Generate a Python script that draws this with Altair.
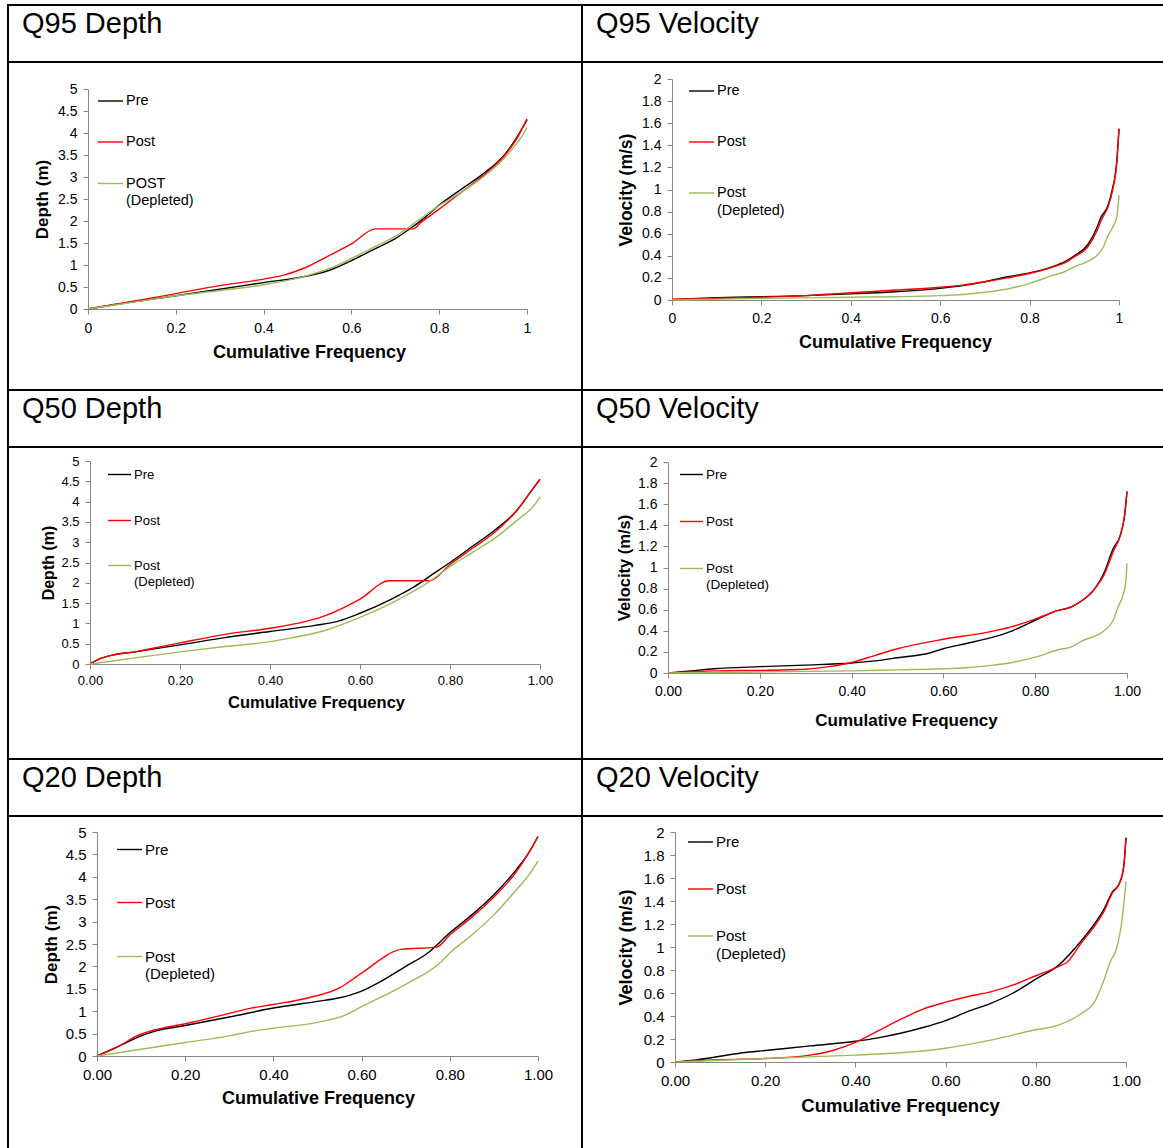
import altair as alt
import pandas as pd

# ------------------------------------------------------------------ data
SERIES = ["Pre", "Post", "Post (Depleted)"]
COLORS = ["#000000", "#FF0000", "#9BBB59"]

# Q95 Depth
q95d_pre_x = [0, 0.1, 0.2, 0.3, 0.4, 0.5, 0.55, 0.6, 0.65, 0.7, 0.73, 0.76, 0.8, 0.85, 0.9, 0.95, 0.98, 0.99, 1.0]
q95d_pre_y = [0, 0.16, 0.3, 0.45, 0.6, 0.75, 0.88, 1.1, 1.35, 1.6, 1.8, 2.02, 2.36, 2.72, 3.07, 3.52, 3.95, 4.12, 4.3]
q95d_post_x = [0, 0.1, 0.2, 0.3, 0.4, 0.45, 0.49, 0.55, 0.6, 0.655, 0.74, 0.76, 0.8, 0.85, 0.9, 0.95, 0.98, 0.99, 1.0]
q95d_post_y = [0, 0.17, 0.35, 0.53, 0.68, 0.78, 0.92, 1.22, 1.48, 1.82, 1.82, 1.98, 2.27, 2.65, 3.03, 3.5, 3.93, 4.12, 4.32]
q95d_dep_x = [0, 0.1, 0.2, 0.3, 0.4, 0.5, 0.55, 0.6, 0.65, 0.7, 0.75, 0.8, 0.85, 0.9, 0.95, 0.99, 1.0]
q95d_dep_y = [0, 0.15, 0.3, 0.42, 0.55, 0.76, 0.92, 1.15, 1.4, 1.65, 2.0, 2.35, 2.65, 3.0, 3.45, 3.95, 4.12]

# Q95 Velocity
q95v_pre_x = [0, 0.1, 0.2, 0.3, 0.4, 0.5, 0.6, 0.65, 0.7, 0.75, 0.8, 0.85, 0.88, 0.9, 0.93, 0.95, 0.96, 0.975, 0.985, 0.995, 1.0]
q95v_pre_y = [0.005, 0.02, 0.03, 0.04, 0.055, 0.075, 0.105, 0.13, 0.165, 0.21, 0.245, 0.3, 0.35, 0.4, 0.5, 0.65, 0.75, 0.85, 1.0, 1.25, 1.55]
q95v_post_x = [0, 0.1, 0.2, 0.3, 0.4, 0.5, 0.6, 0.65, 0.7, 0.75, 0.8, 0.85, 0.88, 0.9, 0.93, 0.95, 0.96, 0.975, 0.985, 0.995, 1.0]
q95v_post_y = [0.005, 0.015, 0.025, 0.04, 0.065, 0.09, 0.115, 0.135, 0.165, 0.2, 0.24, 0.295, 0.34, 0.39, 0.48, 0.62, 0.72, 0.84, 0.98, 1.25, 1.55]
q95v_dep_x = [0, 0.2, 0.4, 0.5, 0.6, 0.65, 0.7, 0.75, 0.8, 0.85, 0.88, 0.9, 0.93, 0.95, 0.965, 0.975, 0.985, 0.995, 1.0]
q95v_dep_y = [0, 0.015, 0.025, 0.03, 0.04, 0.05, 0.07, 0.1, 0.15, 0.22, 0.26, 0.3, 0.35, 0.4, 0.48, 0.58, 0.65, 0.75, 0.95]

# Q50 Depth
q50d_pre_x = [0, 0.02, 0.05, 0.1, 0.2, 0.3, 0.4, 0.5, 0.55, 0.6, 0.67, 0.72, 0.76, 0.8, 0.85, 0.9, 0.95, 0.98, 1.0]
q50d_pre_y = [0, 0.12, 0.22, 0.3, 0.47, 0.65, 0.8, 0.95, 1.05, 1.25, 1.6, 1.9, 2.2, 2.5, 2.9, 3.3, 3.8, 4.25, 4.55]
q50d_post_x = [0, 0.02, 0.05, 0.1, 0.2, 0.3, 0.4, 0.48, 0.52, 0.6, 0.665, 0.755, 0.8, 0.85, 0.9, 0.95, 0.98, 1.0]
q50d_post_y = [0, 0.12, 0.22, 0.3, 0.52, 0.73, 0.88, 1.05, 1.18, 1.6, 2.05, 2.05, 2.45, 2.85, 3.25, 3.8, 4.25, 4.55]
q50d_dep_x = [0, 0.1, 0.2, 0.3, 0.4, 0.45, 0.52, 0.6, 0.67, 0.72, 0.75, 0.8, 0.85, 0.9, 0.95, 0.99, 1.0]
q50d_dep_y = [0, 0.15, 0.3, 0.43, 0.55, 0.65, 0.82, 1.15, 1.5, 1.8, 2.0, 2.4, 2.75, 3.1, 3.55, 3.95, 4.12]

# Q50 Velocity
q50v_pre_x = [0, 0.05, 0.1, 0.2, 0.3, 0.4, 0.45, 0.5, 0.57, 0.6, 0.65, 0.7, 0.75, 0.8, 0.84, 0.88, 0.9, 0.93, 0.95, 0.97, 0.985, 0.995, 1.0]
q50v_pre_y = [0, 0.02, 0.04, 0.06, 0.075, 0.095, 0.115, 0.145, 0.19, 0.23, 0.28, 0.33, 0.4, 0.5, 0.58, 0.63, 0.68, 0.8, 0.95, 1.18, 1.3, 1.5, 1.72]
q50v_post_x = [0, 0.1, 0.2, 0.3, 0.35, 0.4, 0.45, 0.5, 0.6, 0.7, 0.75, 0.8, 0.84, 0.88, 0.9, 0.93, 0.95, 0.97, 0.985, 0.995, 1.0]
q50v_post_y = [0, 0.02, 0.025, 0.035, 0.06, 0.1, 0.165, 0.23, 0.32, 0.39, 0.44, 0.51, 0.58, 0.63, 0.68, 0.8, 0.93, 1.15, 1.3, 1.5, 1.72]
q50v_dep_x = [0, 0.2, 0.4, 0.5, 0.6, 0.65, 0.7, 0.75, 0.8, 0.85, 0.88, 0.9, 0.95, 0.97, 0.98, 0.99, 0.997, 1.0]
q50v_dep_y = [0, 0.01, 0.02, 0.03, 0.04, 0.05, 0.07, 0.1, 0.15, 0.22, 0.25, 0.3, 0.4, 0.5, 0.62, 0.72, 0.85, 1.04]

# Q20 Depth
q20d_pre_x = [0, 0.05, 0.1, 0.13, 0.2, 0.3, 0.4, 0.5, 0.55, 0.6, 0.65, 0.7, 0.75, 0.8, 0.85, 0.9, 0.95, 0.98, 1.0]
q20d_pre_y = [0, 0.22, 0.45, 0.55, 0.68, 0.87, 1.07, 1.22, 1.3, 1.45, 1.7, 2.0, 2.3, 2.75, 3.15, 3.6, 4.15, 4.55, 4.9]
q20d_post_x = [0, 0.05, 0.09, 0.13, 0.2, 0.3, 0.35, 0.4, 0.48, 0.55, 0.6, 0.69, 0.77, 0.8, 0.85, 0.9, 0.95, 0.98, 1.0]
q20d_post_y = [0, 0.22, 0.45, 0.58, 0.72, 0.95, 1.07, 1.15, 1.3, 1.52, 1.85, 2.38, 2.43, 2.7, 3.1, 3.55, 4.1, 4.55, 4.9]
q20d_dep_x = [0, 0.1, 0.2, 0.3, 0.35, 0.4, 0.5, 0.56, 0.6, 0.7, 0.78, 0.8, 0.85, 0.9, 0.95, 0.98, 1.0]
q20d_dep_y = [0, 0.15, 0.3, 0.45, 0.55, 0.62, 0.75, 0.9, 1.1, 1.6, 2.1, 2.3, 2.7, 3.15, 3.7, 4.05, 4.35]

# Q20 Velocity
q20v_pre_x = [0, 0.05, 0.1, 0.15, 0.2, 0.3, 0.4, 0.45, 0.5, 0.55, 0.6, 0.65, 0.7, 0.75, 0.8, 0.85, 0.9, 0.93, 0.95, 0.97, 0.985, 0.995, 1.0]
q20v_pre_y = [0, 0.02, 0.05, 0.08, 0.1, 0.14, 0.18, 0.21, 0.25, 0.3, 0.36, 0.44, 0.51, 0.6, 0.72, 0.84, 1.05, 1.2, 1.32, 1.48, 1.55, 1.7, 1.95]
q20v_post_x = [0, 0.1, 0.2, 0.25, 0.3, 0.35, 0.4, 0.45, 0.5, 0.55, 0.6, 0.65, 0.7, 0.75, 0.8, 0.85, 0.87, 0.9, 0.93, 0.95, 0.97, 0.985, 0.995, 1.0]
q20v_post_y = [0, 0.02, 0.03, 0.04, 0.06, 0.1, 0.17, 0.27, 0.37, 0.46, 0.52, 0.57, 0.61, 0.67, 0.75, 0.83, 0.87, 1.03, 1.18, 1.3, 1.47, 1.55, 1.7, 1.95]
q20v_dep_x = [0, 0.2, 0.4, 0.5, 0.6, 0.7, 0.8, 0.85, 0.9, 0.93, 0.95, 0.965, 0.98, 0.99, 1.0]
q20v_dep_y = [0, 0.03, 0.06, 0.08, 0.12, 0.19, 0.28, 0.32, 0.42, 0.52, 0.7, 0.87, 1.0, 1.2, 1.57]

DEPTH_TICKS = [0, 0.5, 1, 1.5, 2, 2.5, 3, 3.5, 4, 4.5, 5]
VEL_TICKS = [0, 0.2, 0.4, 0.6, 0.8, 1, 1.2, 1.4, 1.6, 1.8, 2]
FREQ_TICKS = [0, 0.2, 0.4, 0.6, 0.8, 1]

# ------------------------------------------------------------------ layout / style
TOTAL_W, TOTAL_H = 1163, 1148
FONT = "Liberation Sans"
AXIS_GRAY = "#868686"

panels = [
    dict(title="Q95 Depth", tx=22, ty=33,
         series=[(q95d_pre_x, q95d_pre_y), (q95d_post_x, q95d_post_y), (q95d_dep_x, q95d_dep_y)],
         legend=["Pre", "Post", "POST", "(Depleted)"],
         x0=88, y0=89, W=439, H=220, ymax=5, yticks=DEPTH_TICKS, ytitle="Depth (m)", xfmt=".1~f",
         lfs=14, tfs=18, ytfs=17, ytx=42, xtx=309, xty=352, lpad=7,
         lgx=98, lglen=25, lgfs=14.5, lgy=[101, 142, 183.5, 200.5]),
    dict(title="Q95 Velocity", tx=596, ty=33,
         series=[(q95v_pre_x, q95v_pre_y), (q95v_post_x, q95v_post_y), (q95v_dep_x, q95v_dep_y)],
         legend=["Pre", "Post", "Post", "(Depleted)"],
         x0=672, y0=79, W=447, H=221, ymax=2, yticks=VEL_TICKS, ytitle="Velocity (m/s)", xfmt=".1~f",
         lfs=14, tfs=18, ytfs=17.5, ytx=626, xtx=895, xty=342, lpad=6,
         lgx=689, lglen=25, lgfs=14.5, lgy=[91, 142, 193, 211]),
    dict(title="Q50 Depth", tx=22, ty=418,
         series=[(q50d_pre_x, q50d_pre_y), (q50d_post_x, q50d_post_y), (q50d_dep_x, q50d_dep_y)],
         legend=["Pre", "Post", "Post", "(Depleted)"],
         x0=90, y0=461, W=450, H=203, ymax=5, yticks=DEPTH_TICKS, ytitle="Depth (m)", xfmt=".2f",
         lfs=13, tfs=16.5, ytfs=16, ytx=48, xtx=316, xty=702, lpad=5,
         lgx=108, lglen=23, lgfs=13, lgy=[474.5, 520.5, 565.5, 582]),
    dict(title="Q50 Velocity", tx=596, ty=418,
         series=[(q50v_pre_x, q50v_pre_y), (q50v_post_x, q50v_post_y), (q50v_dep_x, q50v_dep_y)],
         legend=["Pre", "Post", "Post", "(Depleted)"],
         x0=668, y0=462, W=459, H=211, ymax=2, yticks=VEL_TICKS, ytitle="Velocity (m/s)", xfmt=".2f",
         lfs=14, tfs=17, ytfs=16.5, ytx=624, xtx=906, xty=720, lpad=6,
         lgx=680, lglen=23, lgfs=13.5, lgy=[474.5, 521.5, 568.5, 585]),
    dict(title="Q20 Depth", tx=22, ty=787,
         series=[(q20d_pre_x, q20d_pre_y), (q20d_post_x, q20d_post_y), (q20d_dep_x, q20d_dep_y)],
         legend=["Pre", "Post", "Post", "(Depleted)"],
         x0=97, y0=832, W=441, H=224, ymax=5, yticks=DEPTH_TICKS, ytitle="Depth (m)", xfmt=".2f",
         lfs=15, tfs=18, ytfs=17, ytx=51, xtx=318, xty=1098, lpad=6,
         lgx=117, lglen=25, lgfs=15, lgy=[849.5, 902.5, 956.5, 974]),
    dict(title="Q20 Velocity", tx=596, ty=787,
         series=[(q20v_pre_x, q20v_pre_y), (q20v_post_x, q20v_post_y), (q20v_dep_x, q20v_dep_y)],
         legend=["Pre", "Post", "Post", "(Depleted)"],
         x0=675, y0=832, W=451, H=230, ymax=2, yticks=VEL_TICKS, ytitle="Velocity (m/s)", xfmt=".2f",
         lfs=15, tfs=18.5, ytfs=18, ytx=626, xtx=900, xty=1105, lpad=6,
         lgx=688, lglen=25, lgfs=15, lgy=[842, 889, 936, 953.5]),
]

ONE = pd.DataFrame({"k": [0]})
layers = []


def line_layer(p):
    frames = []
    for name, (xs, ys) in zip(SERIES, p["series"]):
        frames.append(pd.DataFrame({"freq": xs, "value": ys, "series": name}))
    df = pd.concat(frames, ignore_index=True)
    base_y = p["y0"] + p["H"]
    x_axis = alt.Axis(
        orient="bottom", offset=-(TOTAL_H - base_y), values=FREQ_TICKS, format=p["xfmt"],
        title="Cumulative Frequency", titleX=p["xtx"], titleY=p["xty"] - base_y,
        titleAlign="center", titleBaseline="middle", titleFont=FONT, titleFontSize=p["tfs"],
        titleFontWeight="bold", titleColor="black",
        labelFont=FONT, labelFontSize=p["lfs"], labelColor="black", labelPadding=p["lpad"],
        labelFlush=False, labelOverlap=False, labelBaseline="top",
        domainColor=AXIS_GRAY, tickColor=AXIS_GRAY, tickSize=5, grid=False, zindex=0,
    )
    y_axis = alt.Axis(
        orient="left", offset=-p["x0"], values=p["yticks"], format=".1~f",
        title=p["ytitle"], titleX=p["ytx"] - p["x0"], titleY=p["y0"] + p["H"] / 2,
        titleAngle=270, titleAlign="center", titleBaseline="middle", titleFont=FONT,
        titleFontSize=p["ytfs"], titleFontWeight="bold", titleColor="black",
        labelFont=FONT, labelFontSize=p["lfs"], labelColor="black", labelPadding=6,
        labelFlush=False, labelOverlap=False,
        domainColor=AXIS_GRAY, tickColor=AXIS_GRAY, tickSize=5, grid=False, zindex=0,
    )
    return alt.Chart(df).mark_line(strokeWidth=1.4, interpolate="monotone").encode(
        x=alt.X("freq:Q", axis=x_axis,
                scale=alt.Scale(domain=[0, 1], range=[p["x0"], p["x0"] + p["W"]], nice=False, zero=False)),
        y=alt.Y("value:Q", axis=y_axis,
                scale=alt.Scale(domain=[0, p["ymax"]], range=[base_y, p["y0"]], nice=False)),
        color=alt.Color("series:N", scale=alt.Scale(domain=SERIES, range=COLORS), legend=None),
    )


def text_layer(txt, x, y, size, baseline="middle", weight="normal"):
    return alt.Chart(ONE).mark_text(
        text=txt, align="left", baseline=baseline, font=FONT, fontSize=size,
        fontWeight=weight, color="black",
    ).encode(x=alt.value(x), y=alt.value(y))


def rule_layer(x1, y1, x2, y2, color="black", width=2):
    return alt.Chart(ONE).mark_rule(color=color, strokeWidth=width).encode(
        x=alt.value(x1), y=alt.value(y1), x2=alt.value(x2), y2=alt.value(y2)
    )


# table grid
for gy in [5, 62, 390, 447, 759, 816]:
    layers.append(rule_layer(7, gy, TOTAL_W, gy))
for gx in [8, 582]:
    layers.append(rule_layer(gx, 4, gx, TOTAL_H))

for p in panels:
    layers.append(line_layer(p))
    layers.append(text_layer(p["title"], p["tx"], p["ty"], 29, baseline="alphabetic"))
    # in-plot legend
    lx, ll = p["lgx"], p["lglen"]
    for i, col in enumerate(COLORS):
        yy = p["lgy"][i]
        layers.append(rule_layer(lx, yy, lx + ll, yy, color=col, width=1.4))
    for lab, yy in zip(p["legend"], p["lgy"]):
        layers.append(text_layer(lab, lx + ll + 3, yy, p["lgfs"]))

chart = (
    alt.layer(*layers)
    .resolve_scale(x="independent", y="independent")
    .resolve_axis(x="independent", y="independent")
    .properties(width=TOTAL_W, height=TOTAL_H, padding=0,
                autosize=alt.AutoSizeParams(type="none"), background="white")
    .configure_view(stroke=None)
)

chart.save("out.html", embed_options={"renderer": "svg", "actions": False})
